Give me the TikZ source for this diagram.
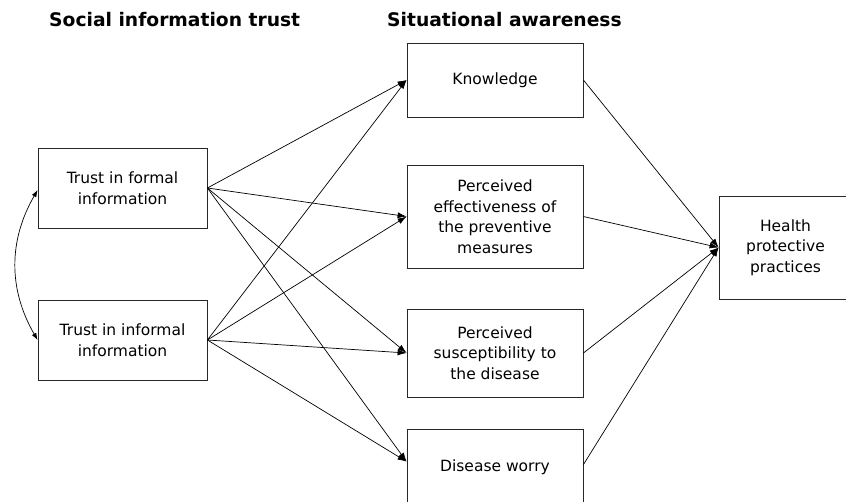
\documentclass[tikz,border=0pt]{standalone}
\usepackage{fontspec}
\setmainfont{DejaVu Sans}
\usetikzlibrary{arrows.meta}
\begin{document}
\begin{tikzpicture}[x=1pt,y=-1pt,
  box/.style={draw=black!85,line width=0.8pt,rectangle,align=center,inner sep=0pt,
    font=\fontsize{15.5}{20.5}\selectfont},
  head/.style={anchor=base west,inner sep=0pt,font=\fontsize{18.7}{22}\selectfont\bfseries},
  arr/.style={-{Latex[length=9pt,width=6pt]},line width=0.7pt},
  link/.style={{Latex[length=7pt,width=5pt]}-{Latex[length=7pt,width=5pt]},line width=0.7pt}]
\useasboundingbox (0,0) rectangle (846,501);
\clip (0,0) rectangle (846,501);
\node[head] (h1) at (49,26) {Social information trust};
\node[head] (h2) at (387,26) {Situational awareness};
\node[box,minimum width=169pt,minimum height=80pt] (formal) at (122.5,188) {Trust in formal\\information};
\node[box,minimum width=169pt,minimum height=80pt] (informal) at (122.5,340) {Trust in informal\\information};
\node[box,minimum width=176pt,minimum height=74pt] (know) at (495,80) {Knowledge};
\node[box,minimum width=176pt,minimum height=103pt] (eff) at (495,216.5) {Perceived\\effectiveness of\\the preventive\\measures};
\node[box,minimum width=176pt,minimum height=88pt] (susc) at (495,353) {Perceived\\susceptibility to\\the disease};
\node[box,minimum width=176pt,minimum height=76pt] (worry) at (495,467) {Disease worry};
\node[box,minimum width=133pt,minimum height=103pt] (health) at (785.5,247.5) {Health\\protective\\practices};
\coordinate (wt) at ([yshift=-33pt]worry.north west);
\coordinate (we) at ([yshift=-36pt]worry.north east);
\foreach \s in {formal,informal}{
  \draw[arr] (\s.east) -- (know.west);
  \draw[arr] (\s.east) -- (eff.west);
  \draw[arr] (\s.east) -- (susc.west);
  \draw[arr] (\s.east) -- (wt);
}
\draw[arr] (know.east) -- (health.west);
\draw[arr] (eff.east) -- (health.west);
\draw[arr] (susc.east) -- (health.west);
\draw[arr] (we) -- (health.west);
\draw[link] ([yshift=-2pt]formal.west) to[bend right=30] ([yshift=0pt]informal.west);
\end{tikzpicture}
\end{document}
